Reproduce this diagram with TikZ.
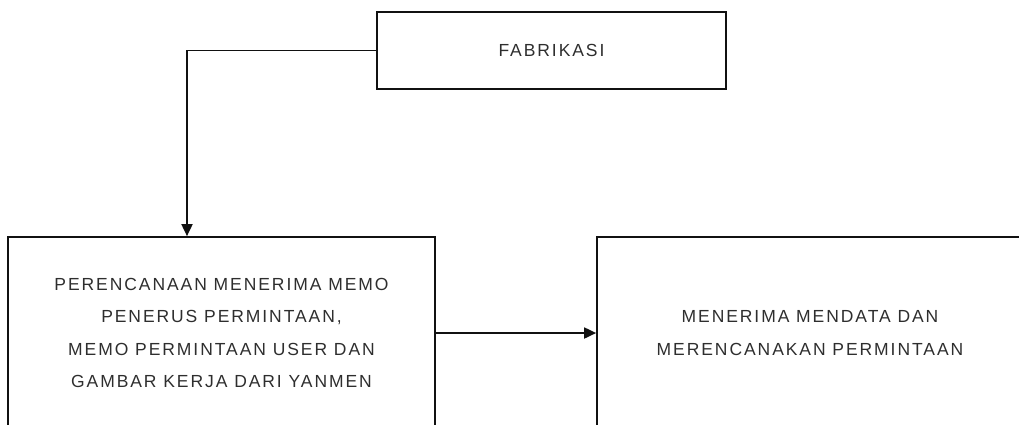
\documentclass[tikz,border=0pt]{standalone}
\usepackage{fontspec}
\setmainfont{Liberation Sans}
\newfontfamily\boxfont[LetterSpace=11]{Liberation Sans}
\usetikzlibrary{arrows.meta}
\definecolor{txt}{HTML}{2E2E2E}
\definecolor{ln}{HTML}{111111}
\tikzset{
  procbox/.style={draw=ln, line width=1.7pt, rectangle, inner sep=0pt, align=center,
    text=txt, font=\boxfont\fontsize{17.5}{32.5}\selectfont},
  link/.style={draw=ln, line width=1.8pt, -{Triangle[length=12pt,width=11pt]}}
}
\begin{document}
\begin{tikzpicture}[x=1pt,y=-1pt]
\useasboundingbox (0,0) rectangle (1019,424);
\clip (0,0) rectangle (1019,424);
\node[procbox, minimum width=349pt, minimum height=77pt] (fab) at (551.5,50.5) {FABRIKASI};
\node[procbox, minimum width=427pt, minimum height=192pt] (left) at (221.5,333) {PERENCANAAN MENERIMA MEMO\\PENERUS PERMINTAAN,\\MEMO PERMINTAAN USER DAN\\GAMBAR KERJA DARI YANMEN};
\node[procbox, minimum width=426pt, minimum height=192pt] (right) at (810,333) {MENERIMA MENDATA DAN\\MERENCANAKAN PERMINTAAN};
\coordinate (bend) at (187,50.5);
\draw[link] (fab.west) -- (bend) -- (bend |- left.north);
\draw[link] (left.east) -- (right.west);
\end{tikzpicture}
\end{document}
